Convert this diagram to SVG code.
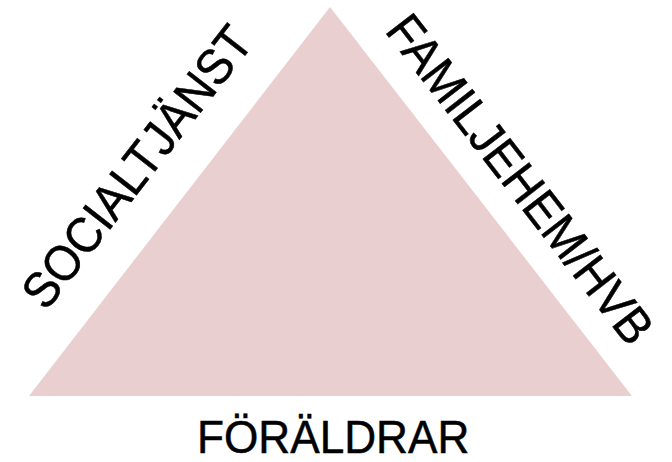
<svg xmlns="http://www.w3.org/2000/svg" width="672" height="462" viewBox="0 0 672 462">
<style>
.lbl{font-family:"Liberation Sans",Arial,sans-serif;font-size:50px;fill:#000;stroke:#000;stroke-width:0.5px}
.bot{font-size:46px}
</style>
<rect width="672" height="462" fill="#fff"/>
<g id="triangle">
<polygon points="330,7 29,396 632,396" fill="#e9cfcf"/>
</g>
<g id="connectors"></g>
<g id="socialtjanst">
<text class="lbl" transform="translate(46,312) rotate(-52.2) scale(0.925,1)">SOCIALTJÄNST</text>
</g>
<g id="familjehem">
<text class="lbl" transform="translate(384,31) rotate(52.3) scale(0.932,1)">FAMILJEHEM/HVB</text>
</g>
<g id="foraldrar">
<text class="lbl bot" transform="translate(197,453) scale(0.96,1)">FÖRÄLDRAR</text>
</g>
</svg>
